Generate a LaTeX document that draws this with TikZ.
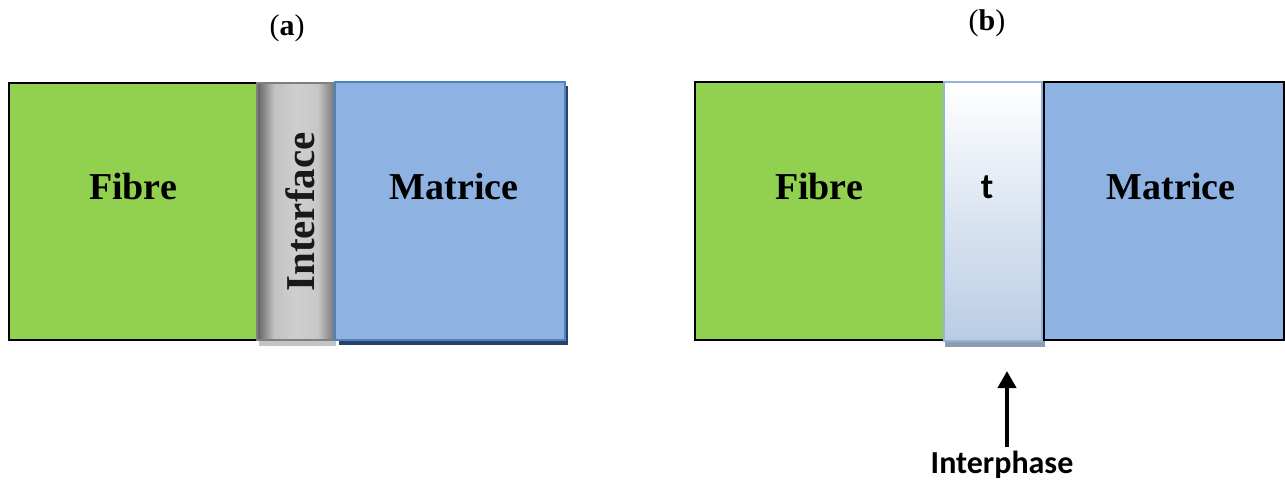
\documentclass[tikz,border=0pt]{standalone}
\usepackage{fontspec}
\setmainfont{Liberation Serif}
\newfontfamily\lblsans{Carlito}
\usetikzlibrary{arrows.meta}
\definecolor{fgreen}{HTML}{92D050}
\definecolor{mblue}{HTML}{8EB3E2}
\definecolor{mborder}{HTML}{4F81BD}
\definecolor{mshadow}{HTML}{27436A}
\definecolor{iborder}{HTML}{95B3D7}
\definecolor{ibottom}{HTML}{B9CCE4}
\definecolor{ishadow}{HTML}{8E9CB0}
\definecolor{gshadow}{HTML}{C4C4C4}
\definecolor{gborder}{HTML}{7F7F7F}
\pgfdeclarehorizontalshading{ifshade}{100bp}{
  color(0bp)=(black!62);
  color(25bp)=(black!62);
  color(36bp)=(black!24);
  color(50bp)=(black!19);
  color(64bp)=(black!22);
  color(75bp)=(black!55);
  color(100bp)=(black!55)}
\tikzset{
  box/.style={rectangle, inner sep=0pt, outer sep=0pt},
  bigtxt/.style={inner sep=0pt, font=\fontsize{38}{42}\selectfont\bfseries},
  captxt/.style={inner sep=0pt, font=\fontsize{30}{34}\selectfont},
}
\begin{document}
\begin{tikzpicture}[x=1pt,y=1pt]
\useasboundingbox (0,0) rectangle (1285,-483);
% panel labels
\node[captxt] (capa) at (287,-28) {(\textbf{a})};
\node[captxt] (capb) at (987,-23) {(\textbf{b})};
% ---------- panel (a)
\fill[gshadow] (259,-340) rectangle (336,-346);
\fill[mshadow] (339,-86) rectangle (568,-345);
\node[box, draw=black, line width=1.6pt, fill=fgreen, minimum width=248pt, minimum height=257pt] (fibA) at (133,-211.5) {};
\node[box, draw=gborder, line width=1.2pt, shading=ifshade, minimum width=78pt, minimum height=257pt] (intA) at (296,-211.5) {};
\node[box, draw=mborder, line width=1.6pt, fill=mblue, minimum width=230pt, minimum height=258pt] (matA) at (450,-211) {};
\node[bigtxt] (fibAt) at (133,-186) {Fibre};
\node[bigtxt] (matAt) at (454,-186) {Matrice};
\node[inner sep=0pt, font=\fontsize{41}{45}\selectfont\bfseries, rotate=90, text=black!90] (intAt) at (300,-212) {Interface};
% ---------- panel (b)
\fill[ishadow] (945,-341) rectangle (1045,-347);
\node[box, draw=black, line width=1.6pt, fill=fgreen, minimum width=249pt, minimum height=258pt] (fibB) at (819.5,-211) {};
\node[box, draw=black, line width=1.6pt, fill=mblue, minimum width=240pt, minimum height=258pt] (matB) at (1164,-211) {};
\node[box, draw=iborder, line width=1.4pt, top color=white, bottom color=ibottom, minimum width=98pt, minimum height=259pt] (intB) at (993,-211.5) {};
\node[bigtxt] (fibBt) at (819,-186) {Fibre};
\node[bigtxt] (matBt) at (1171,-186) {Matrice};
\node[inner sep=0pt, font=\lblsans\fontsize{36}{40}\selectfont\bfseries] (tB) at (987,-187) {t};
% arrow + label
\node[inner sep=0pt, font=\lblsans\fontsize{32}{36}\selectfont\bfseries] (lblB) at (1002,-465) {Interphase};
\coordinate (arrS) at (1007,-447);
\coordinate (arrT) at (1007,-371);
\draw[line width=4pt, -{Triangle[width=18pt,length=17pt]}] (arrS) -- (arrT);
\end{tikzpicture}
\end{document}
